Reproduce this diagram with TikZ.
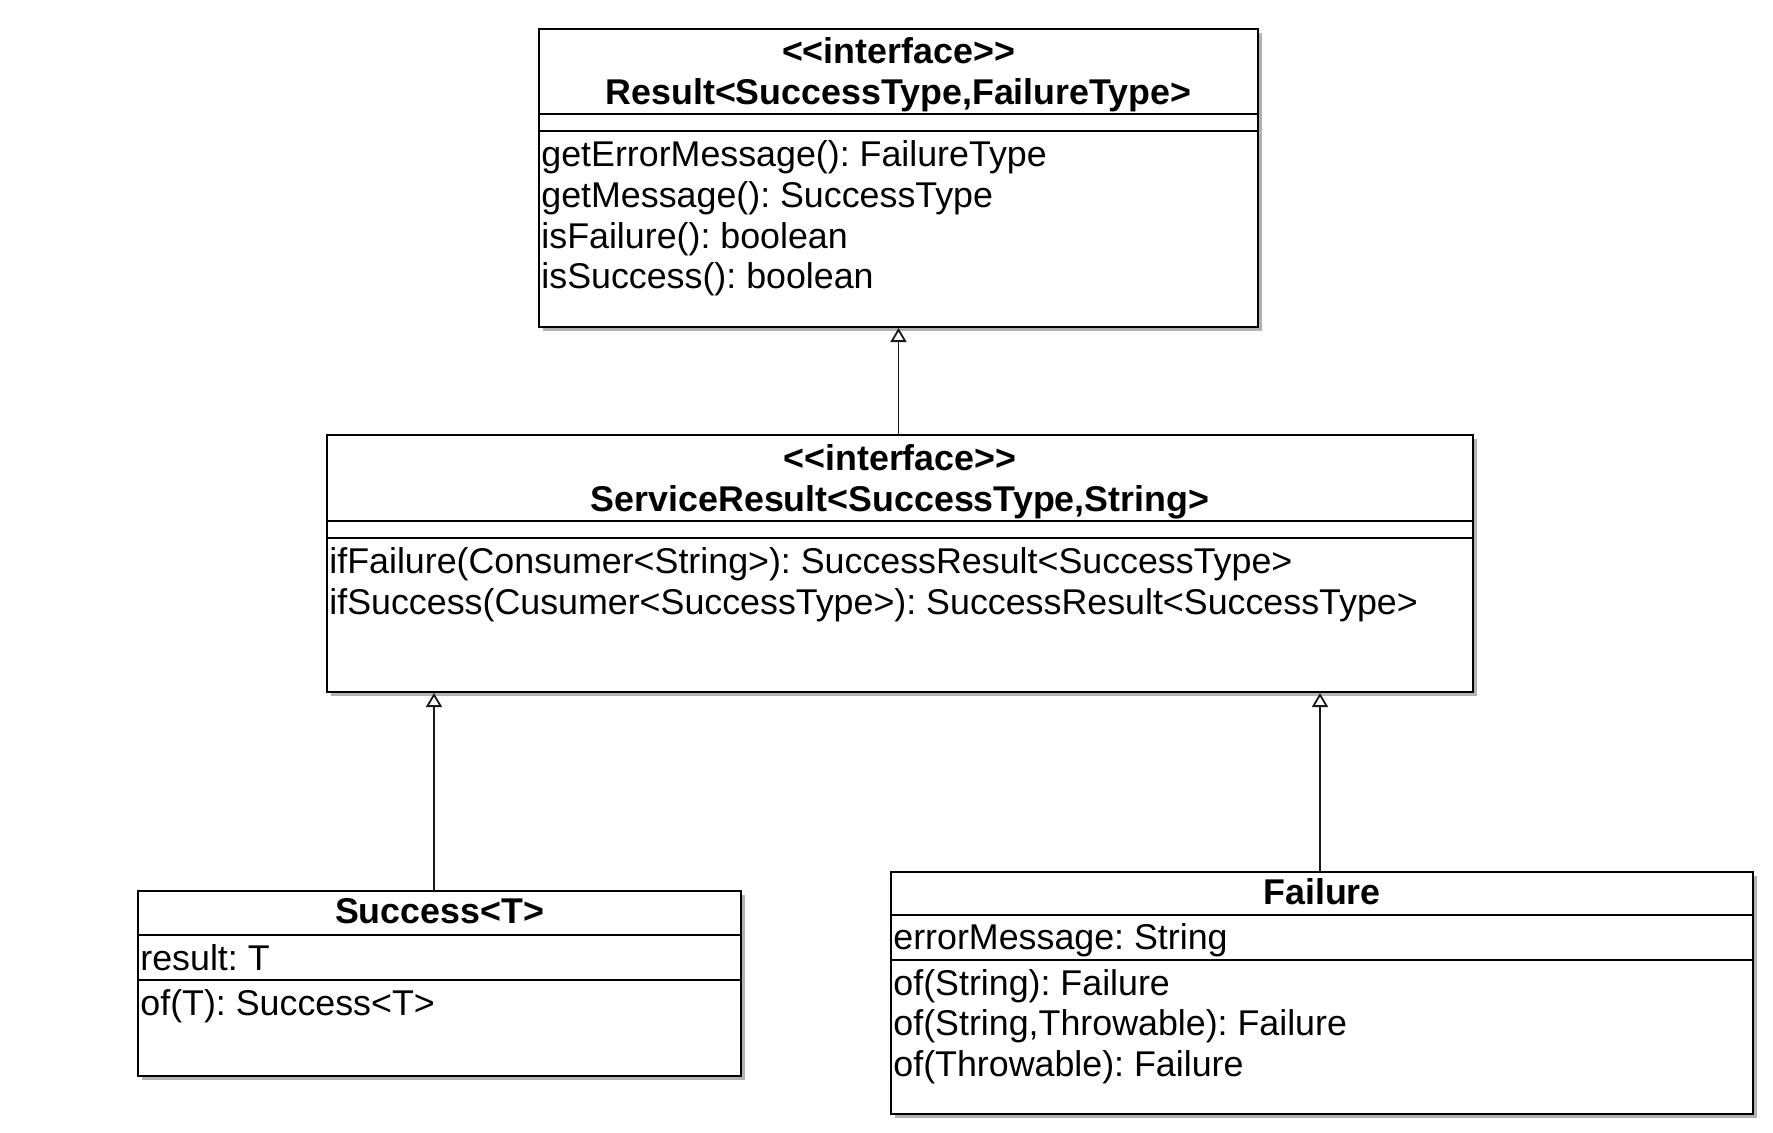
\documentclass[tikz,border=0pt]{standalone}
\usepackage{fontspec}
\setmainfont{Liberation Sans}
\frenchspacing
\usetikzlibrary{arrows.meta,shadows}
\newcommand\umlfont{\fontsize{17.9}{20.4}\selectfont}

\tikzset{
	classbox/.style={draw, line width=1pt, fill=white, inner sep=0pt, anchor=north west,
		drop shadow={shadow xshift=2pt, shadow yshift=-2pt, fill=black!30, opacity=1}},
	title/.style={font=\umlfont\bfseries, anchor=base, inner sep=0pt},
	member/.style={font=\umlfont, anchor=base west, inner sep=0pt},
	sep/.style={line width=1pt},
	realize/.style={line width=0.9pt, black!90, -{Triangle[open, length=7pt, width=8pt]}}
}

\begin{document}
\begin{tikzpicture}[x=0.5pt, y=-0.5pt]
			%%%%% CLASSES %%%%%
			\useasboundingbox (0,0) rectangle (1773,1132);
			
			\node[classbox, minimum width=359.5pt, minimum height=149pt] (res) at (538,28) {};
			\draw[sep] (res.west |- 0,114) -- (res.east |- 0,114);
			\draw[sep] (res.west |- 0,131) -- (res.east |- 0,131);
			\node[title] (res-st) at (res.center |- 0,63) {{<}{<}interface{>}{>}};
			\node[title] (res-nm) at (res.center |- 0,104) {Result<SuccessType,FailureType>};
			\foreach \txt [count=\i] in {getErrorMessage(): FailureType, getMessage(): SuccessType,
				isFailure(): boolean, isSuccess(): boolean}
				\node[member] (res-m\i) at (541, 126+40.7*\i) {\txt};
			
			\node[classbox, minimum width=573pt, minimum height=128.5pt] (svc) at (326,434) {};
			\draw[sep] (svc.west |- 0,521) -- (svc.east |- 0,521);
			\draw[sep] (svc.west |- 0,538) -- (svc.east |- 0,538);
			\node[title] (svc-st) at (svc.center |- 0,470) {{<}{<}interface{>}{>}};
			\node[title] (svc-nm) at (svc.center |- 0,511) {ServiceResult<SuccessType,String>};
			\foreach \txt [count=\i] in {ifFailure(Consumer<String>): SuccessResult<SuccessType>,
				ifSuccess(Cusumer<SuccessType>): SuccessResult<SuccessType>}
				\node[member] (svc-m\i) at (329, 533+40.7*\i) {\txt};
			
			\node[classbox, minimum width=301.5pt, minimum height=92.5pt] (succ) at (137,890) {};
			\draw[sep] (succ.west |- 0,935) -- (succ.east |- 0,935);
			\draw[sep] (succ.west |- 0,980) -- (succ.east |- 0,980);
			\node[title] (succ-nm) at (succ.center |- 0,923) {Success<T>};
			\node[member] (succ-a1) at (140,970) {result: T};
			\node[member] (succ-m1) at (140,1015) {of(T): Success<T>};
			
			\node[classbox, minimum width=431pt, minimum height=121pt] (fail) at (890,871) {};
			\draw[sep] (fail.west |- 0,915) -- (fail.east |- 0,915);
			\draw[sep] (fail.west |- 0,960) -- (fail.east |- 0,960);
			\node[title] (fail-nm) at (fail.center |- 0,904) {Failure};
			\node[member] (fail-a1) at (893,949) {errorMessage: String};
			\foreach \txt [count=\i] in {of(String): Failure, {of(String,Throwable): Failure},
				of(Throwable): Failure}
				\node[member] (fail-m\i) at (893, 954.5+40.7*\i) {\txt};
			
			%%%%% REALIZATIONS %%%%%
			\draw[realize] (res.south |- svc.north) -- (res.south);
			\draw[realize] (434,0 |- succ.north) -- (434,0 |- svc.south);
			\draw[realize] (1320,0 |- fail.north) -- (1320,0 |- svc.south);
			
		\end{tikzpicture}
\end{document}
